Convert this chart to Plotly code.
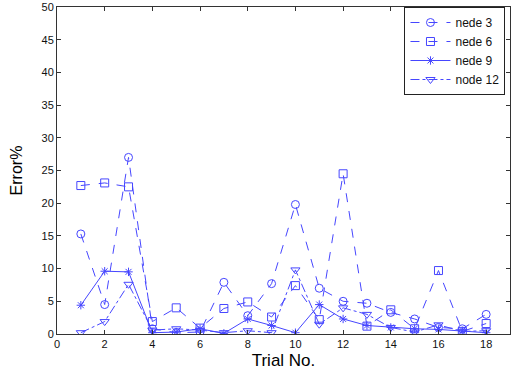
import plotly.graph_objects as go

trials = list(range(1, 19))
node3 = [15.3, 4.5, 27.0, 0.8, 0.2, 0.3, 7.9, 2.8, 7.7, 19.8, 7.0, 5.0, 4.7, 3.3, 2.3, 1.0, 0.8, 3.0]
node6 = [22.7, 23.1, 22.5, 1.9, 4.0, 0.9, 3.9, 4.9, 2.6, 7.4, 2.2, 24.5, 1.2, 3.7, 0.8, 9.7, 0.4, 1.6]
node9 = [4.4, 9.6, 9.5, 0.2, 0.3, 0.8, 0.1, 2.3, 1.3, 0.2, 4.5, 2.3, 1.3, 1.0, 0.8, 0.7, 0.5, 0.2]
node12 = [0.2, 1.9, 7.6, 0.6, 0.8, 0.6, 0.2, 0.5, 0.2, 9.8, 1.5, 4.0, 3.0, 1.0, 0.3, 1.4, 0.4, 0.5]
names = ["nede 3", "nede 6", "nede 9", "node 12"]
symbols = ["circle-open", "square-open", "asterisk-open", "triangle-down-open"]
dashes = ["dash", "dash", "solid", "dashdot"]
series = [node3, node6, node9, node12]

color = "rgb(70,70,255)"
fig = go.Figure()
for name, vals, sym, dash in zip(names, series, symbols, dashes):
    fig.add_trace(go.Scatter(
        x=trials, y=vals, name=name, mode="lines+markers",
        line=dict(color=color, width=1, dash=dash),
        marker=dict(symbol=sym, size=8 if "asterisk" not in sym else 7,
                    color=color, line=dict(color=color, width=1)),
    ))

axis_common = dict(
    showline=True, linecolor="#333", linewidth=1, mirror="ticks",
    ticks="inside", ticklen=4, tickcolor="#333", showgrid=False, zeroline=False,
    tickfont=dict(family="Liberation Sans, Arial", size=11, color="#111"),
)
fig.update_xaxes(range=[0, 19], tickvals=list(range(0, 19, 2)),
                 title=dict(text="Trial No.", font=dict(family="Liberation Sans, Arial", size=17, color="#000"), standoff=4),
                 **axis_common)
fig.update_yaxes(range=[0, 50], tickvals=list(range(0, 51, 5)),
                 title=dict(text="Error%", font=dict(family="Liberation Sans, Arial", size=16, color="#000"), standoff=14),
                 **axis_common)
fig.update_layout(
    width=513, height=371,
    margin=dict(l=57, r=3, t=7, b=37, autoexpand=False),
    plot_bgcolor="white", paper_bgcolor="white",
    showlegend=True,
    legend=dict(x=0.99, y=1, xanchor="right", yanchor="top",
                bordercolor="#222", borderwidth=1, bgcolor="white",
                font=dict(family="Liberation Sans, Arial", size=12, color="#111"),
                tracegroupgap=0, itemwidth=40),
)
fig.write_html("out.html", config={"displayModeBar": False},
               post_script="document.body.style.margin='0';document.body.style.overflow='hidden';")
